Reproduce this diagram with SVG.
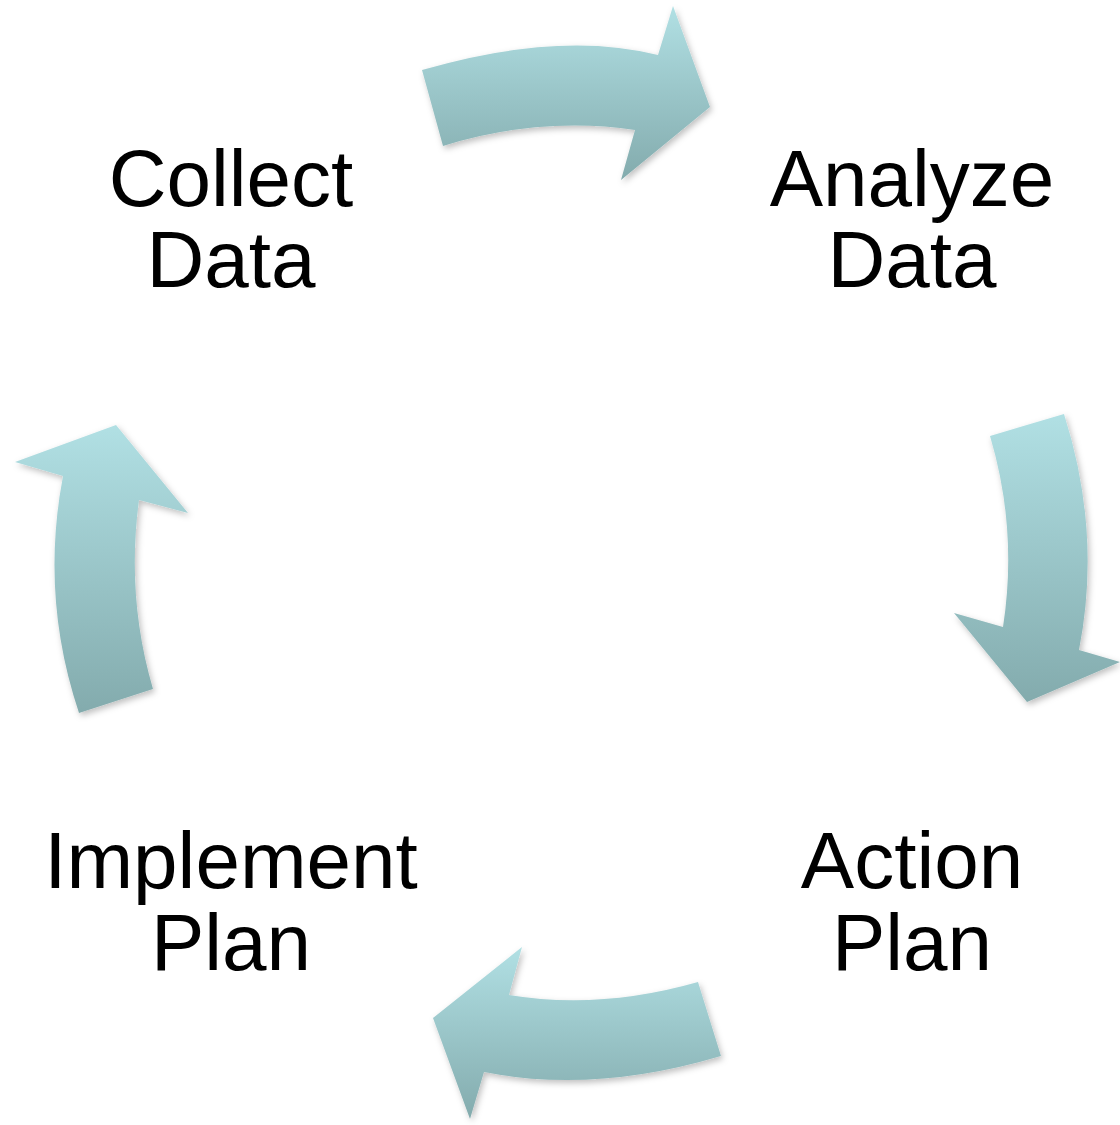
<svg xmlns="http://www.w3.org/2000/svg" width="1120" height="1125" viewBox="0 0 1120 1125">
<defs>
<linearGradient id="g" x1="0" y1="0" x2="0" y2="1">
<stop offset="0" stop-color="#b1e0e4"/>
<stop offset="1" stop-color="#83abad"/>
</linearGradient>
<filter id="sh" x="-10%" y="-10%" width="130%" height="130%">
<feDropShadow dx="2" dy="3" stdDeviation="3" flood-color="#000" flood-opacity="0.25"/>
</filter>
</defs>
<style>
.arrow{fill:url(#g);filter:url(#sh);}
.lbl{font-family:"Liberation Sans",Arial,sans-serif;font-size:80px;fill:#000;text-anchor:middle;}
</style>
<rect width="1120" height="1125" fill="#fff"/>
<g id="connectors">
<path class="arrow" d="M422,70 Q560,30 658,55 L673,6 L710,107 L621,180 L635,130 Q540,116 443,146 Z"/>
<path class="arrow" d="M990,436 L1064,414 Q1102,533 1079,650 L1120,662 L1027,702 L954,613 L1003,627 Q1018,530 990,436 Z"/>
<path class="arrow" d="M698,982 L721,1056 Q594,1094 484,1072 L470,1119 L433,1018 L522,947 L509,995 Q600,1010 698,982 Z"/>
<path class="arrow" d="M79,713 L153,689 Q126,597 139,500 L188,513 L116,425 L15,462 L63,476 Q40,597 79,713 Z"/>
</g>
<g id="collect">
<text class="lbl" x="231" y="206">Collect</text>
<text class="lbl" x="231" y="287">Data</text>
</g>
<g id="analyze">
<text class="lbl" x="912" y="206">Analyze</text>
<text class="lbl" x="912" y="287">Data</text>
</g>
<g id="action">
<text class="lbl" x="912" y="888">Action</text>
<text class="lbl" x="912" y="970">Plan</text>
</g>
<g id="implement">
<text class="lbl" x="231" y="888">Implement</text>
<text class="lbl" x="231" y="970">Plan</text>
</g>
</svg>
